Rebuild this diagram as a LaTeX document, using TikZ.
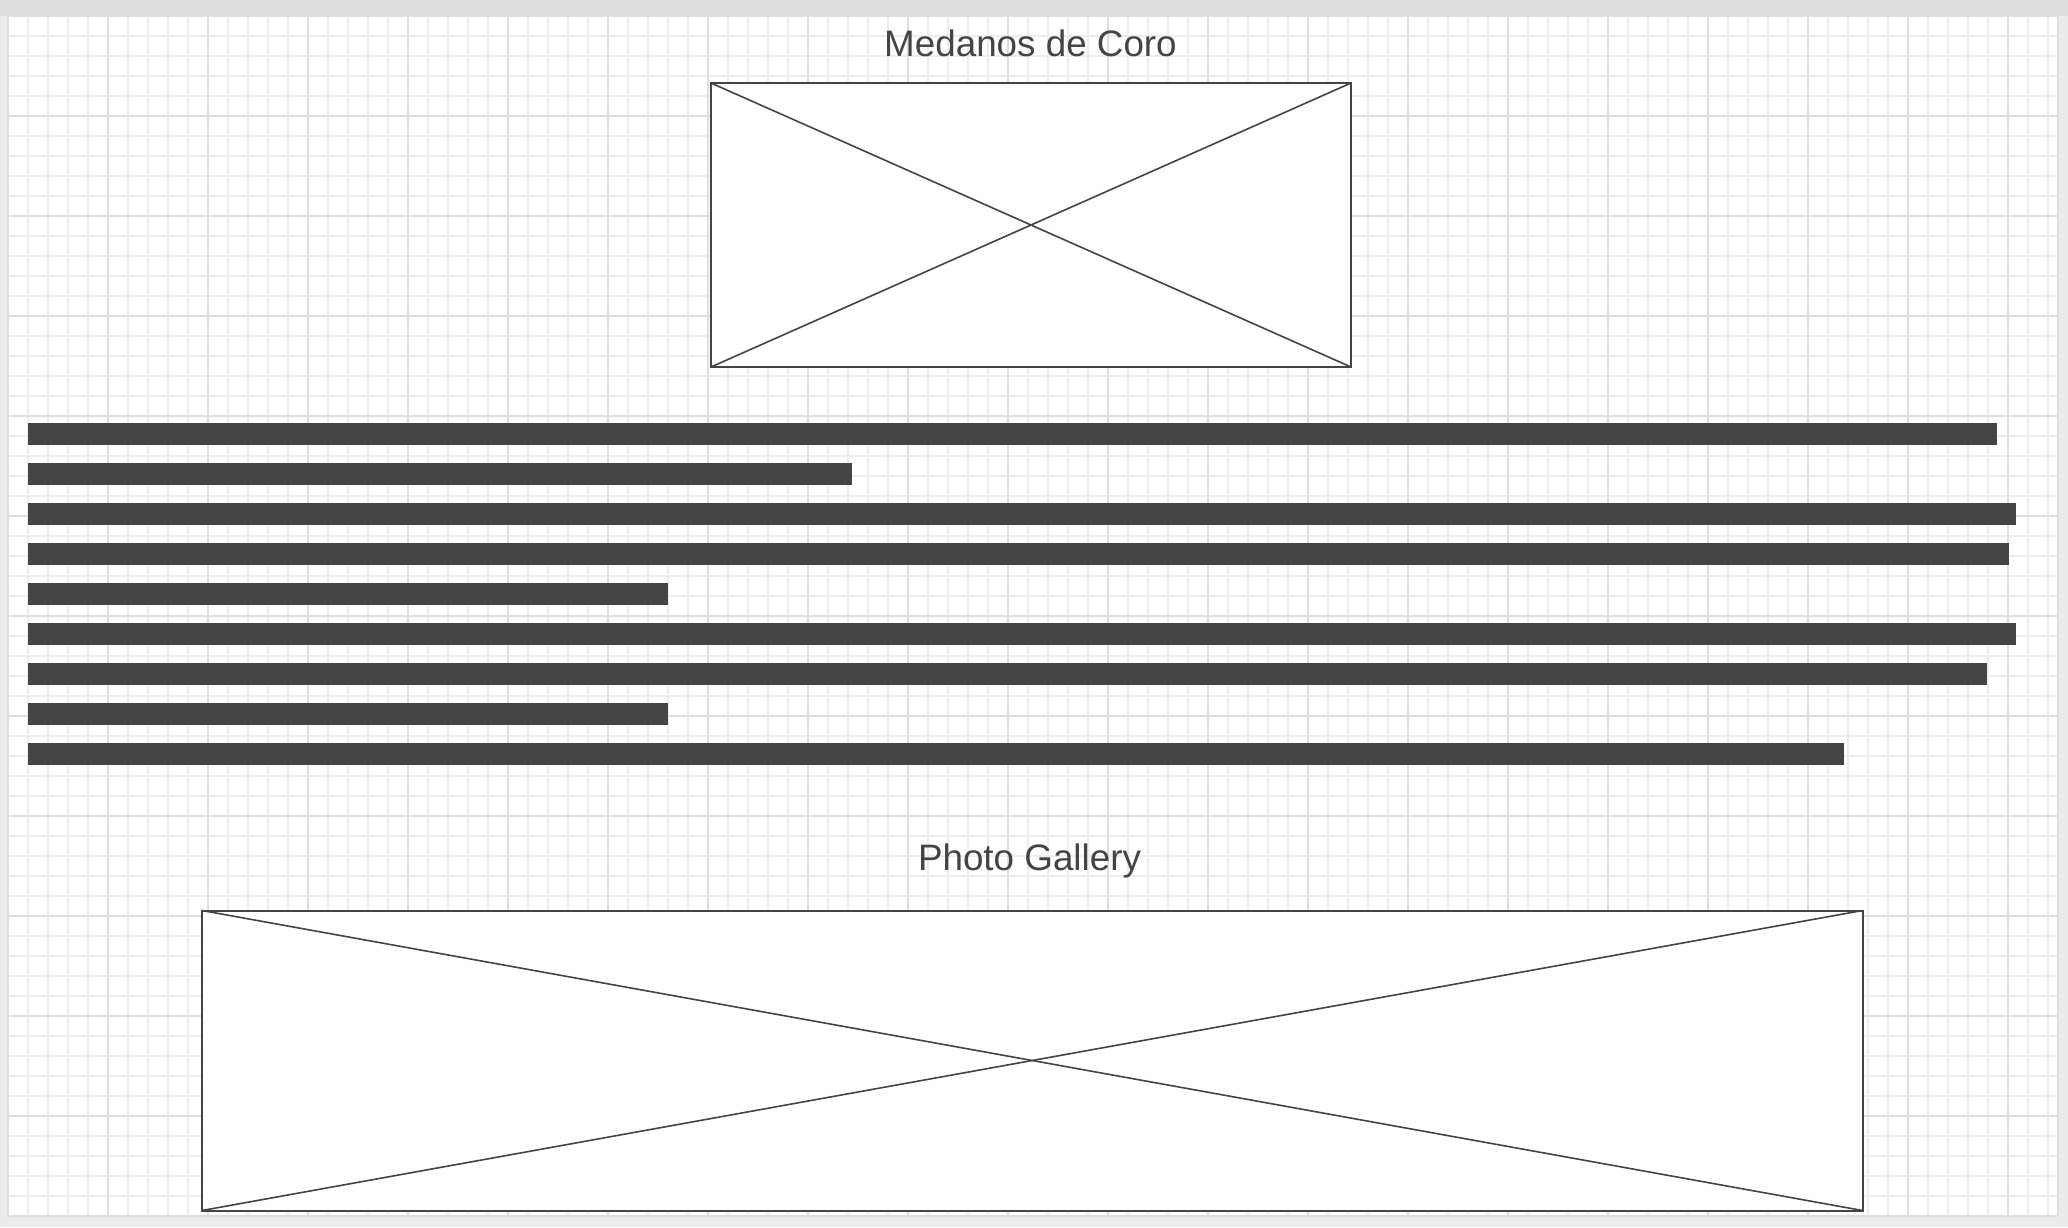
\documentclass[tikz,border=0pt]{standalone}
\usepackage{fontspec}
\setmainfont{Liberation Sans}
\definecolor{ink}{HTML}{444444}
\definecolor{gminor}{HTML}{EDEDED}
\definecolor{gmajor}{HTML}{DEDEDE}
\definecolor{outer}{HTML}{EBEBEB}
\definecolor{topband}{HTML}{DEDEDE}
\begin{document}
\begin{tikzpicture}[x=0.5pt,y=-0.5pt,
  minorline/.style={draw=gminor,line width=1pt},
  majorline/.style={draw=gmajor,line width=1pt},
  title/.style={text=ink,font=\fontsize{18.4}{20}\selectfont,anchor=base,inner sep=0pt},
  imgbox/.style={draw=ink,line width=1pt,fill=white,inner sep=0pt,outer sep=0pt},
  bar/.style={fill=ink,inner sep=0pt,outer sep=0pt,anchor=north west,minimum height=10.75pt},
  cross/.style={draw=ink,line width=0.8pt}]
\useasboundingbox (0,0) rectangle (2068,1227);
\fill[outer] (0,0) rectangle (2068,1227);
\fill[topband] (0,0) rectangle (2068,16);
\fill[white] (8,16) rectangle (2058,1216);
\foreach \x in {28,48,...,2048} \draw[minorline] (\x,16) -- (\x,1216);
\foreach \y in {36,56,...,1196} \draw[minorline] (8,\y) -- (2058,\y);
\foreach \x in {8,108,...,2008} \draw[majorline] (\x,16) -- (\x,1216);
\foreach \y in {16,116,...,1216} \draw[majorline] (8,\y) -- (2058,\y);
\draw[majorline] (2058,16) -- (2058,1216);

\node[title] (t1) at (1030.5,56) {Medanos de Coro};
\node[imgbox,minimum width=320pt,minimum height=142pt] (box1) at (1031,225) {};
\draw[cross] (box1.north west) -- (box1.south east);
\draw[cross] (box1.north east) -- (box1.south west);

\node[bar,minimum width=984.5pt] (b1) at (28,423) {};
\node[bar,minimum width=412pt] (b2) at (28,463) {};
\node[bar,minimum width=994pt] (b3) at (28,503) {};
\node[bar,minimum width=990.5pt] (b4) at (28,543) {};
\node[bar,minimum width=320pt] (b5) at (28,583) {};
\node[bar,minimum width=994pt] (b6) at (28,623) {};
\node[bar,minimum width=979.5pt] (b7) at (28,663) {};
\node[bar,minimum width=320pt] (b8) at (28,703) {};
\node[bar,minimum width=908pt] (b9) at (28,743) {};

\node[title] (t2) at (1029.5,870) {Photo Gallery};
\node[imgbox,minimum width=830.25pt,minimum height=150pt] (box2) at (1032.25,1060.5) {};
\draw[cross] (box2.north west) -- (box2.south east);
\draw[cross] (box2.north east) -- (box2.south west);
\end{tikzpicture}
\end{document}
